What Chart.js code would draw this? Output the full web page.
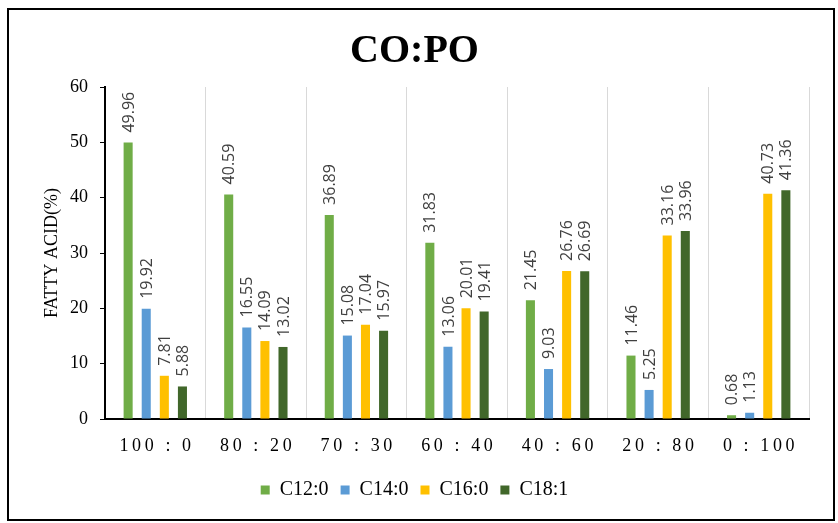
<!DOCTYPE html>
<html>
<head>
<meta charset="utf-8">
<title>CO:PO</title>
<script src="https://cdn.jsdelivr.net/npm/chart.js@4/dist/chart.umd.min.js"></script>
<style>
  html, body { margin: 0; padding: 0; background: #fff; }
  #wrap { position: relative; width: 838px; height: 523px; }
  #frame {
    position: absolute; left: 7px; top: 8px; width: 828px; height: 513px;
    border: 2px solid #000; box-sizing: border-box; pointer-events: none;
  }
  canvas { position: absolute; left: 0; top: 0; }
</style>
</head>
<body>
<div id="wrap">
  <canvas id="chart" width="838" height="523"></canvas>
  <div id="frame"></div>
</div>
<script>
// Blend ratios (coconut oil : palm oil)
const ratios = ['100 : 0', '80 : 20', '70 : 30', '60 : 40', '40 : 60', '20 : 80', '0 : 100'];

// Fatty acid share (%) for each blend
const c12_0 = [49.96, 40.59, 36.89, 31.83, 21.45, 11.46, 0.68];
const c14_0 = [19.92, 16.55, 15.08, 13.06, 9.03, 5.25, 1.13];
const c16_0 = [7.81, 14.09, 17.04, 20.01, 26.76, 33.16, 40.73];
const c18_1 = [5.88, 13.02, 15.97, 19.41, 26.69, 33.96, 41.36];

const seriesNames = ['C12:0', 'C14:0', 'C16:0', 'C18:1'];
const seriesValues = [c12_0, c14_0, c16_0, c18_1];
const seriesColors = ['#70AD47', '#5B9BD5', '#FFC000', '#41672A'];

// y axis range
const yMin = 0;
const yMax = 60;
const yStep = 10;

const serif = "'Liberation Serif', 'Times New Roman', serif";

// Values written vertically above each bar
const barValueLabels = {
  id: 'barValueLabels',
  afterDatasetsDraw(chart) {
    const ctx = chart.ctx;
    ctx.save();
    ctx.font = "16px 'Open Sans', sans-serif";
    ctx.fillStyle = '#404040';
    ctx.textAlign = 'left';
    ctx.textBaseline = 'middle';
    chart.data.datasets.forEach((ds, i) => {
      const meta = chart.getDatasetMeta(i);
      meta.data.forEach((bar, j) => {
        ctx.save();
        ctx.translate(bar.x + 1, bar.y - 10);
        ctx.rotate(-Math.PI / 2);
        ctx.fillText(ds.data[j].toFixed(2), 0, 0);
        ctx.restore();
      });
    });
    ctx.restore();
  }
};

function renderChart() {
  const datasets = seriesNames.map((name, i) => ({
    label: name,
    data: seriesValues[i],
    backgroundColor: seriesColors[i],
    borderWidth: 0,
    categoryPercentage: 0.72,
    barPercentage: 0.5
  }));

  new Chart(document.getElementById('chart'), {
    type: 'bar',
    data: { labels: ratios, datasets: datasets },
    options: {
      responsive: false,
      animation: false,
      layout: { padding: { top: 10, left: 20, right: 29, bottom: 13 } },
      plugins: {
        title: {
          display: true,
          text: 'CO:PO',
          color: '#000',
          font: { family: serif, size: 40, weight: 'bold' },
          padding: { top: 18, bottom: 11 }
        },
        legend: {
          position: 'bottom',
          labels: {
            color: '#000',
            font: { family: serif, size: 20 },
            boxWidth: 9,
            boxHeight: 9,
            padding: 12
          }
        },
        tooltip: { enabled: false }
      },
      scales: {
        x: {
          grid: { color: '#d9d9d9', offset: true, drawTicks: false },
          border: { display: true, color: '#000', width: 2 },
          ticks: {
            color: '#000',
            font: { family: serif, size: 18 },
            padding: 16,
            maxRotation: 0,
            callback: (value, index) => ratios[index].split('').join('\u2009')
          },
          afterFit: scale => { scale.height = 49; }
        },
        y: {
          min: yMin,
          max: yMax,
          grid: { drawOnChartArea: false, drawTicks: true, tickLength: 5, tickColor: '#000' },
          border: { display: true, color: '#000', width: 2 },
          ticks: {
            stepSize: yStep,
            color: '#000',
            font: { family: serif, size: 18 },
            padding: 12
          },
          title: {
            display: true,
            text: 'FATTY ACID(%)',
            color: '#000',
            font: { family: serif, size: 18 },
            padding: { top: 21, bottom: 0 }
          },
          afterFit: scale => { scale.width = 85; }
        }
      }
    },
    plugins: [barValueLabels]
  });
}

window.addEventListener('DOMContentLoaded', () => {
  renderChart();
});
</script>
</body>
</html>
